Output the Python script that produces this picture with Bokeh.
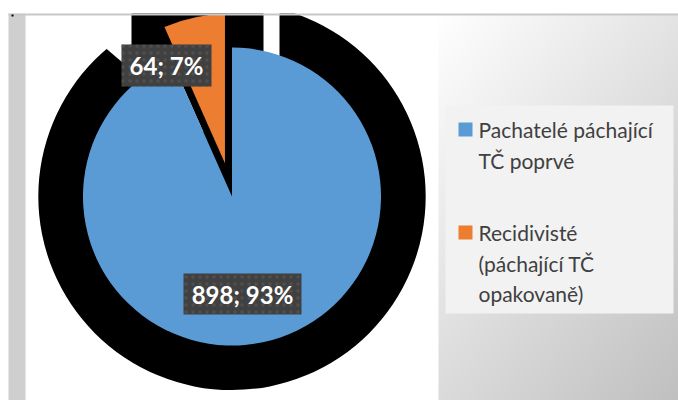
import math
import numpy as np
from bokeh.plotting import figure
from bokeh.models import Range1d
from bokeh.core.properties import value
from bokeh.embed import file_html
from bokeh.resources import INLINE

# ---------------- data ----------------
categories = ["Pachatelé páchající TČ poprvé", "Recidivisté (páchající TČ opakovaně)"]
legend_lines = [["Pachatelé páchající", "TČ poprvé"],
                ["Recidivisté", "(páchající TČ", "opakovaně)"]]
values = [898, 64]
colors = ["#5B9BD5", "#ED7D31"]

# ---------------- layout helpers (screen px of the page -> data units) ----------------
W, H = 678, 400
def fx(X):
    return X
def fy(Y):
    return H - Y

p = figure(width=W, height=H, x_range=Range1d(0, W), y_range=Range1d(0, H),
           output_backend="svg", toolbar_location=None,
           x_axis_location=None, y_axis_location=None, min_border=0)
p.xgrid.visible = False
p.ygrid.visible = False
p.outline_line_color = None
p.background_fill_color = "white"
p.border_fill_color = "white"

# ---------------- background ----------------
gx0, gx1, gy0, gy1 = 438, 678, 13, 400
nx, ny = gx1 - gx0, gy1 - gy0
u = np.linspace(0, 1, nx)[None, :]
v = np.linspace(1, 0, ny)[:, None]   # row 0 = bottom
c = np.clip(255 - 27 * u - 36 * v, 0, 255).astype(np.uint8)
img = np.empty((ny, nx), dtype=np.uint32)
view = img.view(dtype=np.uint8).reshape((ny, nx, 4))
view[:, :, 0] = c
view[:, :, 1] = c
view[:, :, 2] = c
view[:, :, 3] = 255
p.image_rgba(image=[img], x=fx(gx0), y=fy(gy1), dw=nx, dh=ny)

# left gray strip
p.quad(left=[fx(8)], right=[fx(25)], bottom=[0], top=[fy(13)],
       fill_color="#CFCFCF", line_color=None)

# ---------------- pie geometry ----------------
total = sum(values)
fracs = [v_ / total for v_ in values]
CX, CY = fx(231.5), fy(196)
R = 149
explode = 34
shadow_scale = 1.3

cum = 0.0
starts, ends = [], []
for f in fracs:
    a_end = math.pi / 2 - 2 * math.pi * cum
    a_start = math.pi / 2 - 2 * math.pi * (cum + f)
    starts.append(a_start)
    ends.append(a_end)
    cum += f

mid = (starts[1] + ends[1]) / 2
ox = CX + explode * math.cos(mid)
oy = CY + explode * math.sin(mid)

# --- black "shadow" artefacts ---
p.wedge(x=[CX], y=[CY], radius=R * shadow_scale, start_angle=[0], end_angle=[2 * math.pi],
        fill_color="black", line_color=None)
p.wedge(x=[CX + 47.5], y=[CY], radius=300, start_angle=[math.pi / 2],
        end_angle=[math.radians(139.5)], fill_color="white", line_color=None)
p.quad(left=[fx(131)], right=[fx(263)], bottom=[fy(80)], top=[fy(5)],
       fill_color="black", line_color=None)
p.wedge(x=[CX], y=[CY], radius=R, start_angle=[starts[1]], end_angle=[ends[1]],
        fill_color="black", line_color=None)

# --- slices ---
p.wedge(x=[CX], y=[CY], radius=R, start_angle=[starts[0]], end_angle=[ends[0]],
        fill_color=colors[0], line_color=None)
p.wedge(x=[ox], y=[oy], radius=R, start_angle=[starts[1]], end_angle=[ends[1]],
        fill_color=colors[1], line_color=None)

# --- data labels ---
lab_text = [f"{v_}; {round(100 * f)}%" for v_, f in zip(values, fracs)]
lab_x = [fx(242), fx(166)]
lab_y = [fy(293.5), fy(65)]
lab_w = [118, 90]
lab_h = [41, 42]
p.rect(x=lab_x, y=lab_y, width=lab_w, height=lab_h, fill_color="#404040",
       line_color=None, hatch_pattern="dot", hatch_color="#4F4F4F", hatch_scale=7)
p.text(x=lab_x, y=lab_y, text=lab_text, text_align="center", text_baseline="middle",
       text_font=value("Lato"), text_font_style="bold", text_font_size="24px",
       text_color="white")

# ---------------- top band / border ----------------
p.quad(left=[0], right=[W], bottom=[fy(13)], top=[H], fill_color="white", line_color=None)
p.quad(left=[fx(8)], right=[W], bottom=[fy(15)], top=[fy(13)], fill_color="#C8C8C8", line_color=None)
p.quad(left=[fx(11)], right=[fx(13)], bottom=[fy(16)], top=[fy(14)], fill_color="black", line_color=None)

# ---------------- legend ----------------
p.quad(left=[fx(445)], right=[fx(673)], bottom=[fy(313)], top=[fy(105)],
       fill_color="#F2F2F2", line_color=None)
sq_top = [122, 225]
tx, ty, tt = [], [], []
for i, lines in enumerate(legend_lines):
    p.quad(left=[fx(458)], right=[fx(472)], bottom=[fy(sq_top[i] + 14)], top=[fy(sq_top[i])],
           fill_color=colors[i], line_color=None)
    for j, ln in enumerate(lines):
        tx.append(fx(478))
        ty.append(fy(sq_top[i] + 7 + 30.5 * j))
        tt.append(ln)
p.text(x=tx, y=ty, text=tt, text_align="left", text_baseline="middle",
       text_font=value("Lato"), text_font_size="21px", text_color="#404040")

open("out.html", "w").write(file_html(p, INLINE))
